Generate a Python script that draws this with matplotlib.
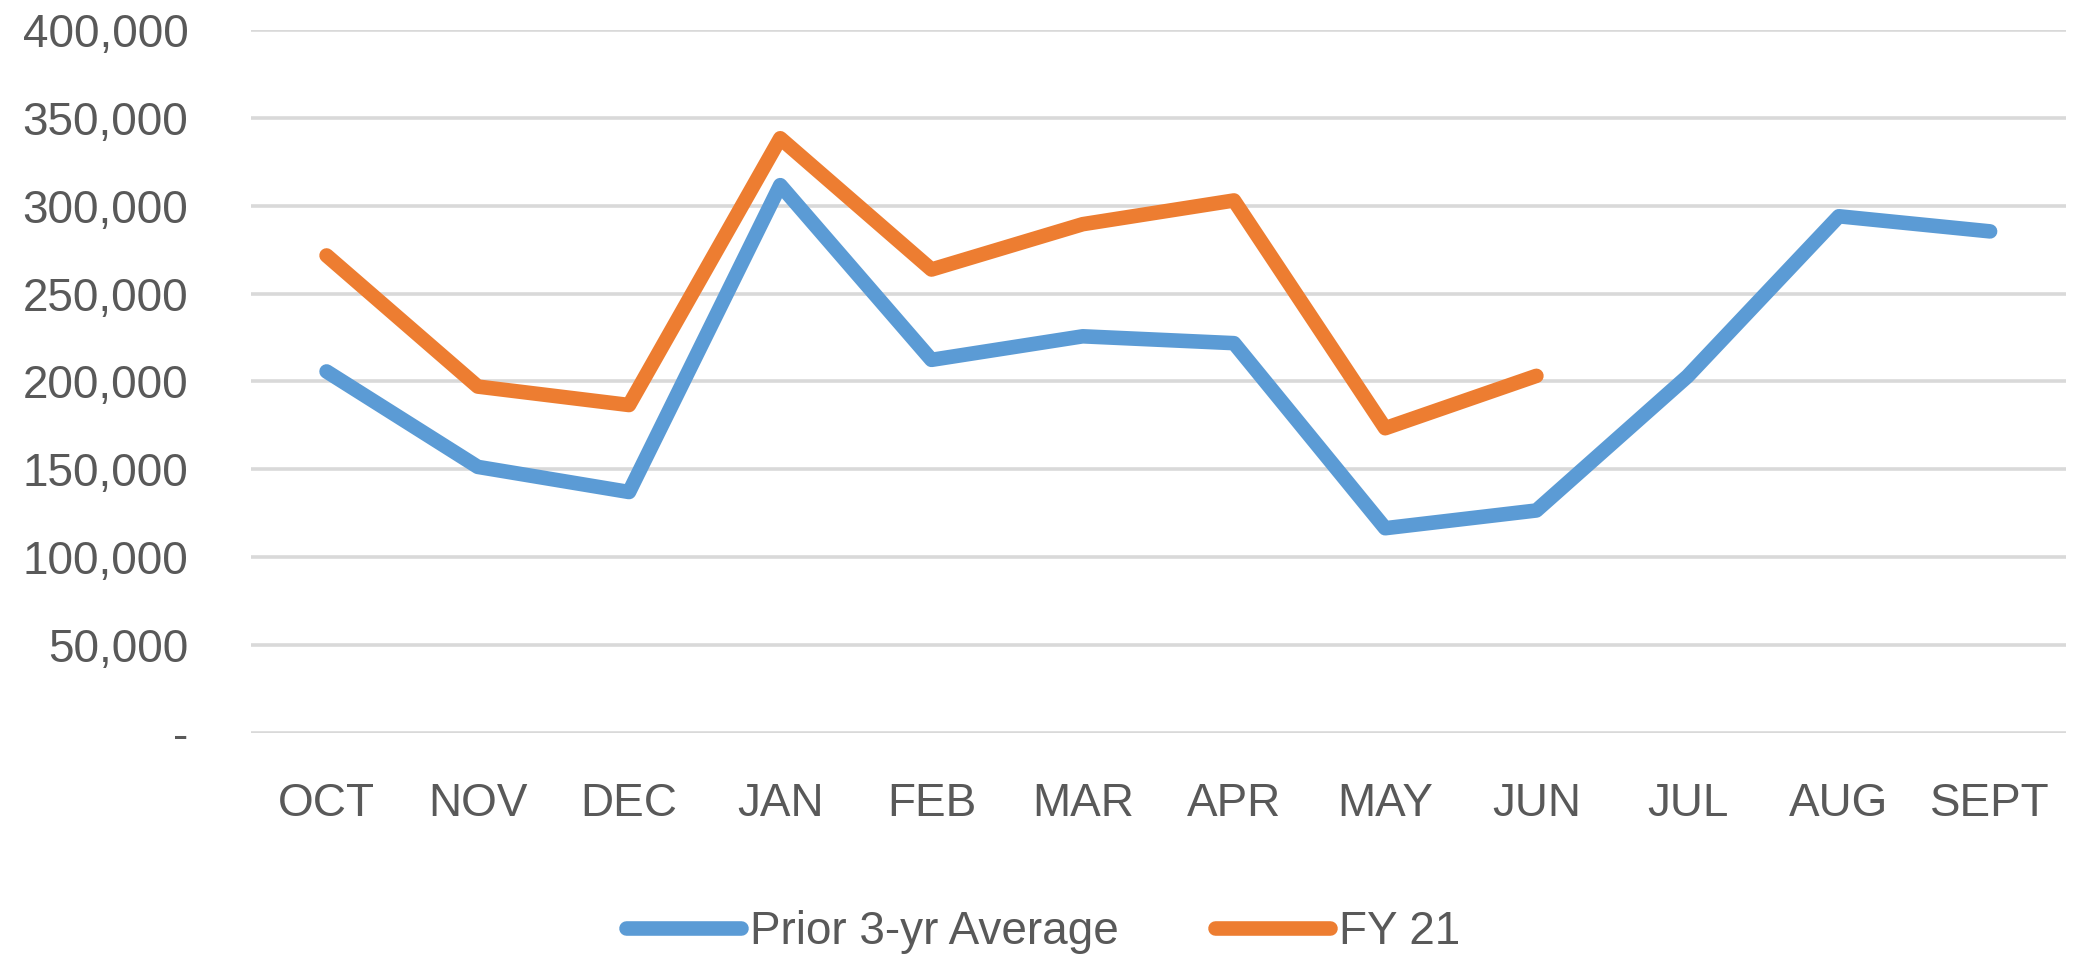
import numpy as np
import matplotlib
matplotlib.use('Agg')
import matplotlib.pyplot as plt
import matplotlib.ticker as ticker

months = ['OCT', 'NOV', 'DEC', 'JAN', 'FEB', 'MAR', 'APR', 'MAY', 'JUN', 'JUL', 'AUG', 'SEPT']
prior_avg = [205700, 151400, 137100, 311700, 212300, 225700, 221800, 116500, 126600, 203000, 294000, 285400]
fy21 = [271700, 197100, 186600, 338400, 263700, 289500, 303000, 173400, 203200]

c_blue = '#5b9bd5'
c_orange = '#ed7d31'
c_text = '#595959'
c_grid = '#d9d9d9'

plt.rcParams['font.family'] = ['Liberation Sans', 'DejaVu Sans']

fig = plt.figure(figsize=(20.74, 9.55), dpi=100)
ax0 = fig.add_axes([0.121, 0.2325, 0.875, 0.7361])

x = np.arange(len(months))
ax0.plot(x, prior_avg, color=c_blue, lw=10.5, solid_joinstyle='round',
         solid_capstyle='round', label='Prior 3-yr Average')
ax0.plot(x[:len(fy21)], fy21, color=c_orange, lw=10.5, solid_joinstyle='round',
         solid_capstyle='round', label='FY 21')

ax0.set_xlim(-0.5, len(months) - 0.5)
ax0.set_ylim(0, 400000)
ax0.set_xticks(x)
ax0.set_xticklabels(months)

# y-ticks
ax0.yaxis.set_major_locator(ticker.MultipleLocator(50000))
ax0.yaxis.set_major_formatter(ticker.FuncFormatter(lambda v, p: '-' if v == 0 else f'{v:,.0f}'))
ax0.yaxis.grid(True, color=c_grid, lw=2.6)
ax0.set_axisbelow(True)

for s in ax0.spines.values():
    s.set_visible(False)
ax0.tick_params(axis='both', length=0, labelsize=33, labelcolor=c_text)
ax0.tick_params(axis='y', pad=45)
ax0.tick_params(axis='x', pad=35)

leg = fig.legend(loc='center', bbox_to_anchor=(0.503, 0.024), ncol=2, frameon=False,
                 fontsize=33, handlelength=2.5, handletextpad=0.2, columnspacing=2.1,
                 labelcolor=c_text)
for h in leg.get_lines():
    h.set_solid_capstyle('round')
    h.set_linewidth(10.5)

#%% save
plt.savefig('out.png', dpi=100)
